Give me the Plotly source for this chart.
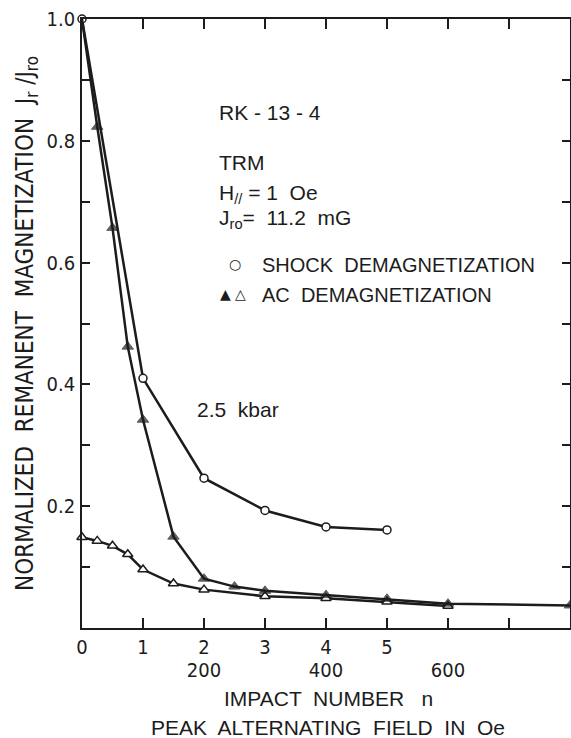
import plotly.graph_objects as go

# ---- data ----
shock_n = [0, 1, 2, 3, 4, 5]
shock_j = [1.0, 0.41, 0.246, 0.193, 0.166, 0.161]

ac_field_filled = [0, 25, 50, 75, 100, 150, 200, 250, 300, 400, 500, 600, 800]
ac_j_filled = [1.0, 0.823, 0.657, 0.462, 0.342, 0.150, 0.081, 0.068, 0.061, 0.054, 0.048, 0.040, 0.037]

ac_field_open = [0, 25, 50, 75, 100, 150, 200, 300, 400, 500, 600]
ac_j_open = [0.149, 0.143, 0.135, 0.121, 0.096, 0.073, 0.063, 0.052, 0.049, 0.043, 0.036]

impact_ticks = [0, 1, 2, 3, 4, 5]
impact_labels = ["0", "1", "2", "3", "4", "5"]
impact_minor_ticks = [6, 7]
field_ticks = [200, 400, 600]
field_labels = ["200", "400", "600"]
y_ticks = [0.2, 0.4, 0.6, 0.8, 1.0]
y_labels = ["0.2", "0.4", "0.6", "0.8", "1.0"]

INK = "#1c1c1c"
NARROW = "Liberation Sans Narrow, Arial Narrow, DejaVu Sans Condensed, sans-serif"
SANS = "Liberation Sans, Arial, sans-serif"

fig = go.Figure()

fig.add_trace(go.Scatter(
    x=ac_field_open, y=ac_j_open, xaxis="x2", yaxis="y", mode="lines+markers",
    line=dict(color=INK, width=2.5),
    marker=dict(symbol="triangle-up", size=9, color="white", line=dict(color=INK, width=1.5)),
    cliponaxis=False, showlegend=False))

fig.add_trace(go.Scatter(
    x=ac_field_filled, y=ac_j_filled, xaxis="x2", yaxis="y", mode="lines+markers",
    line=dict(color=INK, width=2.5),
    marker=dict(symbol="triangle-up", size=[0] + [10] * (len(ac_field_filled) - 1),
                color=INK, line=dict(color=INK, width=1)),
    cliponaxis=True, showlegend=False))

fig.add_trace(go.Scatter(
    x=shock_n, y=shock_j, xaxis="x", yaxis="y", mode="lines+markers",
    line=dict(color=INK, width=2.5),
    marker=dict(symbol="circle", size=8, color="white", line=dict(color=INK, width=1.5)),
    cliponaxis=False, showlegend=False))

def ann(text, x, y, size=21, xanchor="left", font=SANS):
    fig.add_annotation(text=text, x=x, y=y, xref="x", yref="y", xanchor=xanchor,
                       yanchor="middle", showarrow=False,
                       font=dict(family=font, size=size, color=INK))

ann("RK - 13 - 4", 2.213, 0.846)
ann("TRM", 2.213, 0.765)
ann("H<sub>//</sub> = 1  Oe", 2.213, 0.712)
ann("J<sub>ro</sub>=  11.2  mG", 2.213, 0.672)
ann("○", 2.51, 0.598, size=14, xanchor="center", font="DejaVu Sans")
ann("SHOCK  DEMAGNETIZATION", 2.918, 0.596, size=20)
ann("▲", 2.35, 0.549, size=14, xanchor="center", font="DejaVu Sans")
ann("△", 2.60, 0.549, size=14, xanchor="center", font="DejaVu Sans")
ann("AC  DEMAGNETIZATION", 2.918, 0.547, size=20)
ann("2.5  kbar", 1.852, 0.358)

plot_h = 738 - 19 - 110
for txt, py in [("IMPACT  NUMBER   n", 698), ("PEAK  ALTERNATING  FIELD  IN  Oe", 727)]:
    fig.add_annotation(text=txt, x=(328 - 82) / 488, y=(628 - py) / plot_h,
                       xref="paper", yref="paper", xanchor="center", yanchor="middle",
                       showarrow=False, font=dict(family=SANS, size=21, color=INK))

fig.update_layout(
    width=571, height=738,
    margin=dict(l=82, r=1, t=19, b=110),
    paper_bgcolor="white", plot_bgcolor="white",
    font=dict(family=NARROW, color=INK),
    xaxis=dict(range=[0, 8], tickmode="array", tickvals=impact_ticks, ticktext=impact_labels,
               ticks="inside", ticklen=10, tickwidth=1.5, tickcolor=INK,
               minor=dict(tickmode="array", tickvals=impact_minor_ticks, ticks="inside",
                          ticklen=10, tickwidth=1.5, tickcolor=INK, showgrid=False),
               showline=True, linewidth=1.8, linecolor=INK, mirror="ticks",
               showgrid=False, zeroline=False, tickfont=dict(size=20, family=NARROW),
               ticklabelstandoff=0, automargin=False),
    xaxis2=dict(range=[0, 800], overlaying="x", anchor="y", side="bottom",
                tickmode="array", tickvals=field_ticks, ticktext=field_labels,
                ticks="", showline=False, showgrid=False, zeroline=False,
                tickfont=dict(size=20, family=NARROW), ticklabelstandoff=28,
                automargin=False),
    yaxis=dict(range=[0, 1.0], tickmode="array", tickvals=y_ticks, ticktext=y_labels,
               ticks="inside", ticklen=8, tickwidth=1.5, tickcolor=INK,
               minor=dict(dtick=0.1, tick0=0, ticks="inside", ticklen=8, tickwidth=1.5,
                          tickcolor=INK, showgrid=False),
               showline=True, linewidth=1.8, linecolor=INK, mirror="ticks",
               showgrid=False, zeroline=False, tickfont=dict(size=20, family=NARROW),
               ticklabelstandoff=1, automargin=False,
               title=dict(text="NORMALIZED  REMANENT  MAGNETIZATION  J<sub>r</sub> /J<sub>ro</sub>",
                          font=dict(size=24, family=NARROW), standoff=6)),
)

fig.write_html("out.html", config={"displayModeBar": False},
               post_script="document.body.style.margin='0';document.body.style.overflow='hidden';")
